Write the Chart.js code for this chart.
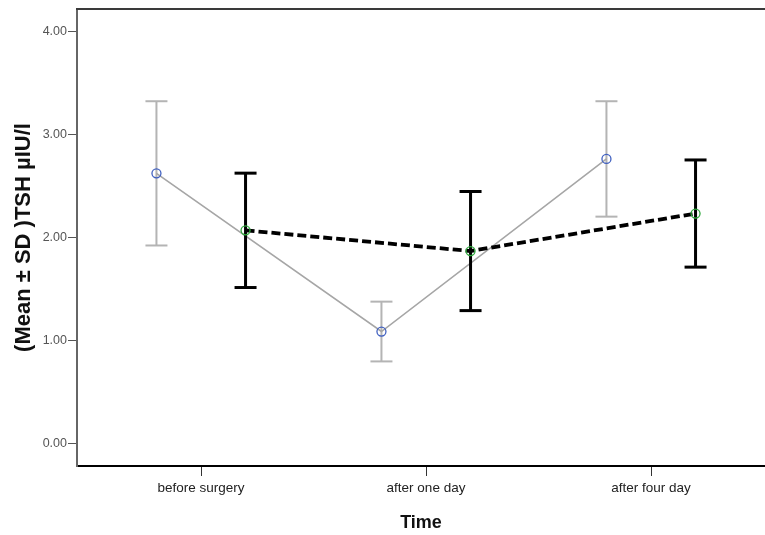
<!DOCTYPE html>
<html><head><meta charset="utf-8">
<script src="https://cdn.jsdelivr.net/npm/chart.js@4/dist/chart.umd.min.js"></script>
<style>html,body{margin:0;padding:0;background:#fff;overflow:hidden}#wrap{width:765px;height:535px;position:relative}</style>
</head><body><div id="wrap"><canvas id="c" width="765" height="535"></canvas></div>
<script>
const categories = ['before surgery', 'after one day', 'after four day'];
const greyMean = [2.62, 1.085, 2.76];
const greySD = [0.70, 0.29, 0.56];
const blackMean = [2.067, 1.866, 2.23];
const blackSD = [0.555, 0.578, 0.52];
const yTicks = [0, 1, 2, 3, 4];
const yTitle = '(Mean \u00B1 SD )TSH \u00B5IU/l';
const xTitle = 'Time';

const SANS = '"Liberation Sans", Arial, sans-serif';
const OFF = 0.198;
const PXU = 225;           // pixels per category step in the reference
const LEFT_GAP = 124;      // from plot left edge to first category
const AREA_W = 688;        // visible plot width

function meanPts(means, off) { return means.map((m, i) => ({x: i + 1 + off, y: m})); }
function errPts(means, sds, off) {
  const d = [];
  means.forEach((m, i) => {
    d.push({x: i + 1 + off, y: m - sds[i]}, {x: i + 1 + off, y: m + sds[i]}, {x: i + 1 + off, y: null});
  });
  return d;
}

const frame = {
  id: 'frame',
  afterDraw(chart) {
    const {ctx, chartArea: a} = chart;
    ctx.save();
    ctx.strokeStyle = '#3a3a3a';
    ctx.lineWidth = 2;
    ctx.beginPath();
    ctx.moveTo(a.left - 1, a.top);
    ctx.lineTo(a.right + 1, a.top);
    ctx.stroke();
    ctx.restore();
  }
};

new Chart(document.getElementById('c'), {
  type: 'line',
  data: {
    datasets: [
      {
        label: 'after',
        data: meanPts(blackMean, OFF),
        borderColor: '#000', borderWidth: 3.8, borderDash: [9, 4],
        pointStyle: 'circle', pointRadius: 4.5, pointBorderColor: '#2ea83c',
        pointBackgroundColor: 'rgba(0,0,0,0)', pointBorderWidth: 1.3
      },
      {
        label: 'after err',
        data: errPts(blackMean, blackSD, OFF),
        borderColor: '#000', borderWidth: 3, spanGaps: false,
        pointStyle: 'line', pointRadius: 11, pointBorderColor: '#000', pointBorderWidth: 3
      },
      {
        label: 'before',
        data: meanPts(greyMean, -OFF),
        borderColor: '#a6a6a6', borderWidth: 1.6,
        pointStyle: 'circle', pointRadius: 4.5, pointBorderColor: '#4060c0',
        pointBackgroundColor: 'rgba(0,0,0,0)', pointBorderWidth: 1.3
      },
      {
        label: 'before err',
        data: errPts(greyMean, greySD, -OFF),
        borderColor: '#b4b4b4', borderWidth: 2, spanGaps: false,
        pointStyle: 'line', pointRadius: 11, pointBorderColor: '#b4b4b4', pointBorderWidth: 2
      }
    ]
  },
  options: {
    responsive: false,
    animation: false,
    layout: {autoPadding: false, padding: {top: 9, right: 0, bottom: 0, left: 0}},
    plugins: {legend: {display: false}, tooltip: {enabled: false}},
    elements: {line: {tension: 0}},
    scales: {
      x: {
        type: 'linear',
        min: 1 - LEFT_GAP / PXU,
        max: 1 - LEFT_GAP / PXU + AREA_W / PXU,
        afterBuildTicks: s => { s.ticks = categories.map((c, i) => ({value: i + 1})); },
        afterFit: s => { s.height = 69; s.paddingLeft = 0; s.paddingRight = 0; },
        ticks: {
          callback: v => categories[Math.round(v) - 1] || '',
          font: {family: SANS, size: 13.5}, color: '#222', padding: 4, maxRotation: 0, autoSkip: false
        },
        grid: {drawOnChartArea: false, drawTicks: true, tickLength: 10, tickColor: '#333', tickWidth: 1},
        border: {display: true, color: '#000', width: 2},
        title: {display: true, text: xTitle, font: {family: SANS, size: 18, weight: 'bold'}, color: '#111', padding: {top: 0, bottom: 1}}
      },
      y: {
        type: 'linear',
        min: -0.22, max: 4.215,
        afterBuildTicks: s => { s.ticks = yTicks.map(v => ({value: v})); },
        afterFit: s => { s.width = 77; s.paddingTop = 0; s.paddingBottom = 0; },
        ticks: {
          callback: v => Number(v).toFixed(2),
          font: {family: SANS, size: 12.5}, color: '#555', padding: 1
        },
        grid: {drawOnChartArea: false, drawTicks: true, tickLength: 9, tickColor: '#555', tickWidth: 1},
        border: {display: true, color: '#666', width: 2},
        title: {display: true, text: yTitle, font: {family: SANS, size: 22, weight: 'bold'}, color: '#111', padding: {top: 11, bottom: 0}}
      }
    }
  },
  plugins: [frame]
});
</script>
</body></html>
